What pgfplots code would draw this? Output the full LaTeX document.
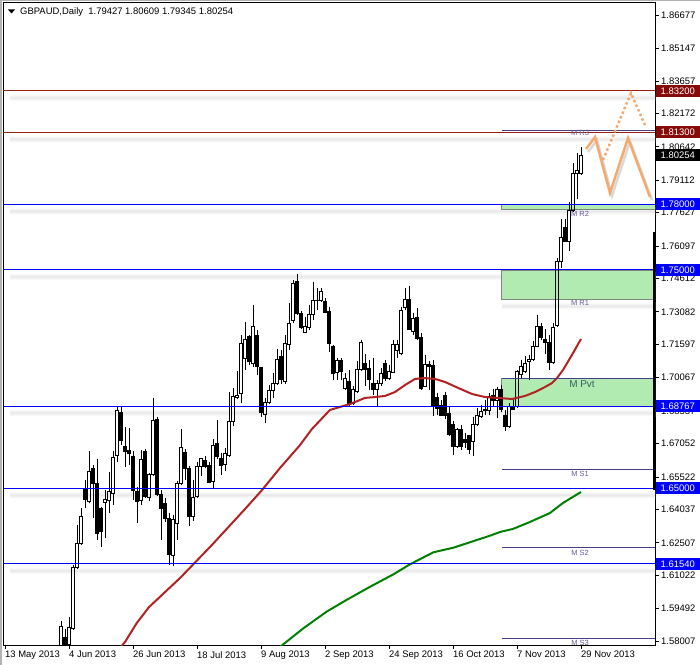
\documentclass[border=0pt]{standalone}
\usepackage{pgfplots}
\pgfplotsset{compat=1.18}
\usepackage{pgfplotstable}
\usepackage{fontspec}
\setmainfont{Liberation Sans}

\definecolor{mtblue}{RGB}{0,0,255}
\definecolor{mtmaroon}{RGB}{150,30,20}
\definecolor{boxred}{RGB}{135,10,10}
\definecolor{pivline}{RGB}{72,61,139}
\definecolor{pivtext}{RGB}{100,90,155}
\definecolor{pvttext}{RGB}{55,95,95}
\definecolor{zone}{RGB}{178,235,178}
\definecolor{zoneedge}{RGB}{125,135,125}
\definecolor{maslow}{RGB}{0,128,0}
\definecolor{mafast}{RGB}{178,34,34}
\definecolor{proj}{RGB}{244,170,110}

% daily candles: bar index, open, high, low, close
\pgfplotstableread{
i o h l c
15 1.5760 1.5891 1.5740 1.5868
16 1.5815 1.5856 1.5750 1.5770
17 1.5785 1.5909 1.5770 1.5865
18 1.5858 1.6150 1.5853 1.6139
19 1.6139 1.6332 1.6131 1.6246
20 1.6246 1.6408 1.6240 1.6373
21 1.6495 1.6538 1.6408 1.6449
22 1.6439 1.6670 1.6434 1.6579
23 1.6591 1.6606 1.6363 1.6522
24 1.6522 1.6636 1.6264 1.6294
25 1.6408 1.6416 1.6233 1.6302
26 1.6436 1.6492 1.6271 1.6451
27 1.6446 1.6575 1.6386 1.6487
28 1.6477 1.6670 1.6424 1.6641
29 1.6649 1.6877 1.6621 1.6857
30 1.6849 1.6877 1.6697 1.6717
31 1.6690 1.6781 1.6598 1.6671
32 1.6674 1.6776 1.6606 1.6659
33 1.6647 1.6670 1.6446 1.6492
34 1.6484 1.6507 1.6340 1.6442
35 1.6443 1.6674 1.6424 1.6632
36 1.6667 1.6680 1.6455 1.6462
37 1.6456 1.6570 1.6440 1.6563
38 1.6563 1.6915 1.6555 1.6811
39 1.6815 1.6828 1.6465 1.6471
40 1.6471 1.6490 1.6264 1.6410
41 1.6430 1.6456 1.6344 1.6361
42 1.6361 1.6387 1.6149 1.6195
43 1.6191 1.6380 1.6142 1.6356
44 1.6341 1.6532 1.6264 1.6522
45 1.6522 1.6770 1.6517 1.6685
46 1.6662 1.6678 1.6540 1.6589
47 1.6589 1.6601 1.6326 1.6371
48 1.6371 1.6540 1.6349 1.6460
49 1.6463 1.6619 1.6456 1.6598
50 1.6598 1.6640 1.6555 1.6635
51 1.6626 1.6650 1.6595 1.6601
52 1.6604 1.6620 1.6528 1.6528
53 1.6532 1.6724 1.6497 1.6698
54 1.6704 1.6815 1.6632 1.6644
55 1.6635 1.6662 1.6563 1.6606
56 1.6609 1.6686 1.6578 1.6658
57 1.6650 1.6943 1.6647 1.6805
58 1.6805 1.6958 1.6785 1.6920
59 1.6915 1.7038 1.6910 1.6925
60 1.6933 1.7201 1.6889 1.7163
61 1.7095 1.7263 1.7042 1.7184
62 1.7194 1.7202 1.7065 1.7080
63 1.7072 1.7340 1.7057 1.7240
64 1.7202 1.7225 1.7019 1.7057
65 1.7054 1.7057 1.6828 1.6846
66 1.6840 1.6912 1.6797 1.6893
67 1.6893 1.6973 1.6889 1.6950
68 1.6950 1.7026 1.6912 1.6980
69 1.6980 1.7138 1.6973 1.7090
70 1.7106 1.7133 1.6980 1.7000
71 1.6991 1.7202 1.6980 1.7164
72 1.7161 1.7347 1.7133 1.7255
73 1.7268 1.7454 1.7255 1.7439
74 1.7447 1.7482 1.7294 1.7301
75 1.7301 1.7310 1.7230 1.7237
76 1.7214 1.7286 1.7210 1.7240
77 1.7237 1.7340 1.7225 1.7294
78 1.7294 1.7447 1.7271 1.7362
79 1.7360 1.7416 1.7316 1.7362
80 1.7362 1.7416 1.7355 1.7401
81 1.7358 1.7370 1.7301 1.7306
82 1.7309 1.7332 1.7126 1.7164
83 1.7152 1.7156 1.6996 1.7026
84 1.7029 1.7095 1.6996 1.7084
85 1.7087 1.7095 1.6996 1.7034
86 1.6958 1.7030 1.6950 1.7003
87 1.6990 1.7040 1.6874 1.6885
88 1.6890 1.6967 1.6883 1.6952
89 1.6944 1.7081 1.6936 1.7046
90 1.7046 1.7181 1.7036 1.7168
91 1.7071 1.7116 1.6967 1.7046
92 1.7051 1.7089 1.6952 1.6997
93 1.6982 1.7097 1.6929 1.6952
94 1.6952 1.6997 1.6872 1.6979
95 1.6979 1.7051 1.6967 1.7028
96 1.7074 1.7086 1.6990 1.7005
97 1.7005 1.7066 1.6997 1.7036
98 1.7032 1.7181 1.7028 1.7161
99 1.7130 1.7181 1.7097 1.7158
100 1.7116 1.7329 1.7112 1.7313
101 1.7330 1.7417 1.7318 1.7364
102 1.7364 1.7425 1.7226 1.7229
103 1.7219 1.7303 1.7203 1.7280
104 1.7284 1.7326 1.7181 1.7188
105 1.7191 1.7211 1.6952 1.6959
106 1.6967 1.7112 1.6964 1.7066
107 1.7066 1.7081 1.6952 1.7058
108 1.7062 1.7086 1.6829 1.6873
109 1.6918 1.6935 1.6835 1.6865
110 1.6881 1.6903 1.6829 1.6835
111 1.6927 1.6942 1.6817 1.6835
112 1.6845 1.6877 1.6738 1.6745
113 1.6791 1.6806 1.6654 1.6692
114 1.6692 1.6776 1.6685 1.6768
115 1.6768 1.6790 1.6677 1.6692
116 1.6722 1.6753 1.6684 1.6708
117 1.6741 1.6745 1.6658 1.6677
118 1.6715 1.6826 1.6646 1.6791
119 1.6791 1.6868 1.6784 1.6832
120 1.6829 1.6883 1.6822 1.6852
121 1.6863 1.6906 1.6837 1.6857
122 1.6855 1.6936 1.6837 1.6921
123 1.6924 1.6955 1.6875 1.6903
124 1.6903 1.6964 1.6822 1.6952
125 1.6952 1.6974 1.6848 1.6860
126 1.6832 1.6860 1.6761 1.6784
127 1.6784 1.6890 1.6776 1.6875
128 1.6875 1.6913 1.6860 1.6863
129 1.6875 1.7043 1.6868 1.7035
130 1.7020 1.7089 1.7005 1.7058
131 1.7035 1.7104 1.7028 1.7074
132 1.7081 1.7112 1.6997 1.7092
133 1.7092 1.7173 1.7081 1.7150
134 1.7150 1.7295 1.7147 1.7242
135 1.7242 1.7257 1.7178 1.7193
136 1.7182 1.7230 1.7113 1.7167
137 1.7167 1.7201 1.7043 1.7078
138 1.7078 1.7255 1.7069 1.7237
139 1.7244 1.7554 1.7237 1.7539
140 1.7539 1.7733 1.7508 1.7647
141 1.7694 1.7733 1.7627 1.7632
142 1.7632 1.7810 1.7585 1.7771
143 1.7771 1.7988 1.7764 1.7942
144 1.7942 1.8035 1.7826 1.7954
145 1.79427 1.80609 1.79345 1.80254
}\candles
\pgfplotstablegetrowsof{\candles}
\pgfmathtruncatemacro\nrows{\pgfplotsretval-1}

\pgfplotsset{
  candle/.style={black, line width=0.9bp, forget plot, solid},
  level/.style={line width=1bp, forget plot},
  shadow/.style={draw=none, top color=white, bottom color=white, middle color=black!9, forget plot},
}

\begin{document}
\begin{tikzpicture}
\begin{axis}[
  at={(3bp,20bp)}, anchor=south west,
  width=652bp, height=642bp, scale only axis,
  xmin=0.5, xmax=163.5, ymin=1.57824, ymax=1.87227,
  clip mode=individual,
  axis line style={black, line width=1bp},
  tick align=outside, major tick length=4bp,
  tick style={black, line width=0.8bp},
  xtick pos=bottom, ytick pos=right, yticklabel pos=right,
  xtick={1,17,33,49,65,81,97,113,129,145},
  xticklabels={13 May 2013,4 Jun 2013,26 Jun 2013,18 Jul 2013,9 Aug 2013,2 Sep 2013,24 Sep 2013,16 Oct 2013,7 Nov 2013,29 Nov 2013},
  ytick={1.58007,1.59492,1.61022,1.62507,1.64037,1.65522,1.67052,1.68537,1.70067,1.71597,1.73082,1.74612,1.76097,1.77627,1.79112,1.80642,1.82172,1.83657,1.85147,1.86677},
  scaled y ticks=false,
  tick label style={font=\fontsize{9.5}{11}\selectfont},
  xticklabel style={anchor=north west, inner sep=0pt, yshift=-2bp},
  yticklabel style={anchor=west, inner sep=0pt, xshift=2bp,
    /pgf/number format/.cd, fixed, fixed zerofill, precision=5, assume math mode=true},
]
% soft shadows under the horizontal levels
\addplot[shadow] coordinates {(2.25,1.83063) (163.5,1.83063) (163.5,1.82742) (2.25,1.82742)} --cycle;
\addplot[shadow] coordinates {(2.25,1.81163) (163.5,1.81163) (163.5,1.80842) (2.25,1.80842)} --cycle;
\addplot[shadow] coordinates {(2.25,1.77863) (163.5,1.77863) (163.5,1.77542) (2.25,1.77542)} --cycle;
\addplot[shadow] coordinates {(2.25,1.74863) (163.5,1.74863) (163.5,1.74542) (2.25,1.74542)} --cycle;
\addplot[shadow] coordinates {(2.25,1.68630) (163.5,1.68630) (163.5,1.68309) (2.25,1.68309)} --cycle;
\addplot[shadow] coordinates {(2.25,1.64863) (163.5,1.64863) (163.5,1.64542) (2.25,1.64542)} --cycle;
\addplot[shadow] coordinates {(2.25,1.61403) (163.5,1.61403) (163.5,1.61082) (2.25,1.61082)} --cycle;
\addplot[shadow] coordinates {(125.2,1.73523) (163.5,1.73523) (163.5,1.73202) (125.2,1.73202)} --cycle;

% monthly pivot zones
\addplot[fill=zone, draw=zoneedge, line width=0.8bp, forget plot] coordinates {(125.2,1.7776) (163.5,1.7776) (163.5,1.7800) (125.2,1.7800)} --cycle;
\addplot[fill=zone, draw=zoneedge, line width=0.8bp, forget plot] coordinates {(125.2,1.7366) (163.5,1.7366) (163.5,1.7500) (125.2,1.7500)} --cycle;
\addplot[fill=zone, draw=zoneedge, line width=0.8bp, forget plot] coordinates {(125.2,1.68767) (163.5,1.68767) (163.5,1.7005) (125.2,1.7005)} --cycle;

% candles
\pgfplotsforeachungrouped \r in {0,...,\nrows}{%
  \pgfplotstablegetelem{\r}{i}\of\candles \let\ci\pgfplotsretval
  \pgfplotstablegetelem{\r}{o}\of\candles \let\co\pgfplotsretval
  \pgfplotstablegetelem{\r}{h}\of\candles \let\ch\pgfplotsretval
  \pgfplotstablegetelem{\r}{l}\of\candles \let\cl\pgfplotsretval
  \pgfplotstablegetelem{\r}{c}\of\candles \let\cc\pgfplotsretval
  \pgfmathsetmacro\xa{\ci-0.33}
  \pgfmathsetmacro\xb{\ci+0.33}
  \pgfmathsetmacro\ctop{max(\co,\cc)}
  \pgfmathsetmacro\cbot{min(\co,\cc)}
  \pgfmathtruncatemacro\bull{\cc<\co ? 0 : 1}
  \edef\cmd{\noexpand\addplot[candle] coordinates {(\ci,\ch) (\ci,\ctop)};
    \noexpand\addplot[candle] coordinates {(\ci,\cbot) (\ci,\cl)};}
  \cmd
  \ifnum\bull=1
    \edef\cmd{\noexpand\addplot[candle, fill=none] coordinates {(\xa,\co) (\xb,\co) (\xb,\cc) (\xa,\cc)} --cycle;}
  \else
    \edef\cmd{\noexpand\addplot[candle, fill=black] coordinates {(\xa,\co) (\xb,\co) (\xb,\cc) (\xa,\cc)} --cycle;}
  \fi
  \cmd
}

% moving averages
\addplot[mafast, line width=2bp] coordinates {
  (29.25,1.5759) (31,1.5796) (33.9,1.5882) (37,1.5956) (44.75,1.6089) (52.7,1.6240)
  (61,1.6405) (65.25,1.6492) (69.75,1.6593) (74.75,1.6698) (77.75,1.6772)
  (82.25,1.6859) (87.25,1.6886) (91,1.6914) (93.5,1.6918) (96,1.6923)
  (98.5,1.6941) (101,1.6973) (103.5,1.7001) (106,1.7005) (108.5,1.7001)
  (111,1.6987) (114.25,1.6960) (117.75,1.6932) (121,1.6918) (124.25,1.6914)
  (127.75,1.6909) (131,1.6923) (133.5,1.6941) (136,1.6964) (137.75,1.6982)
  (139,1.7005) (140.5,1.7042) (142.75,1.7111) (145,1.7184)};
\addplot[maslow, line width=2bp] coordinates {
  (69.5,1.5769) (70.6,1.5786) (75.6,1.5859) (81.4,1.5935) (86.4,1.5989)
  (92.25,1.6049) (98.1,1.6106) (102.25,1.6152) (108.1,1.6207) (113.1,1.6228)
  (118.9,1.6263) (122.25,1.6283) (124.75,1.6300) (128,1.6314) (132.25,1.6346)
  (137.25,1.6387) (140.5,1.6433) (145,1.6483)};

% horizontal levels
\addplot[level, mtmaroon] coordinates {(0.5,1.832) (163.5,1.832)};
\addplot[level, mtmaroon] coordinates {(0.5,1.813) (163.5,1.813)};
\addplot[level, mtblue] coordinates {(0.5,1.78) (163.5,1.78)};
\addplot[level, mtblue] coordinates {(0.5,1.75) (163.5,1.75)};
\addplot[level, mtblue] coordinates {(0.5,1.68767) (163.5,1.68767)};
\addplot[level, mtblue] coordinates {(0.5,1.65) (163.5,1.65)};
\addplot[level, mtblue] coordinates {(0.5,1.6154) (163.5,1.6154)};
% monthly pivot lines
\addplot[level, pivline] coordinates {(125.2,1.8140) (163.5,1.8140)};
\addplot[level, pivline] coordinates {(125.2,1.7005) (163.5,1.7005)};
\addplot[level, pivline] coordinates {(125.2,1.6587) (163.5,1.6587)};
\addplot[level, pivline] coordinates {(125.2,1.6227) (163.5,1.6227)};
\addplot[level, pivline] coordinates {(125.2,1.5813) (163.5,1.5813)};

% price range marker on the right edge
\addplot[black, line width=2.5bp, forget plot] coordinates {(163.2,1.7674) (163.2,1.6490)};

% projected path
\addplot[gray!30, line width=2.5bp, transform canvas={xshift=2bp, yshift=-3bp}] coordinates {(146.25,1.8054) (148.5,1.8109) (152.25,1.7853) (156.75,1.8104) (162.25,1.7834)};
\addplot[proj, line width=2.5bp] coordinates {(146.25,1.8054) (148.5,1.8109) (152.25,1.7853) (156.75,1.8104) (162.25,1.7834)};
\addplot[proj, line width=2.5bp, dash pattern=on 2.5bp off 2.5bp] coordinates {(150.5,1.8004) (157.5,1.8310) (161,1.8164)};

\node[pivtext, font=\fontsize{7.5}{8}\selectfont, inner sep=0pt] at (axis cs:144.75,1.8128) {M R3};
\node[pivtext, font=\fontsize{7.5}{8}\selectfont, inner sep=0pt] at (axis cs:144.75,1.7758) {M R2};
\node[pivtext, font=\fontsize{7.5}{8}\selectfont, inner sep=0pt] at (axis cs:144.75,1.7347) {M R1};
\node[pivtext, font=\fontsize{7.5}{8}\selectfont, inner sep=0pt] at (axis cs:144.75,1.6564) {M S1};
\node[pivtext, font=\fontsize{7.5}{8}\selectfont, inner sep=0pt] at (axis cs:144.75,1.6204) {M S2};
\node[pivtext, font=\fontsize{7.5}{8}\selectfont, inner sep=0pt] at (axis cs:144.75,1.5790) {M S3};
\node[pvttext, font=\fontsize{10}{12}\selectfont, inner sep=0pt] at (axis cs:145.25,1.6978) {M Pvt};

\coordinate (b1) at (axis cs:163.5,1.832);
\coordinate (b2) at (axis cs:163.5,1.813);
\coordinate (b3) at (axis cs:163.5,1.80254);
\coordinate (b4) at (axis cs:163.5,1.78);
\coordinate (b5) at (axis cs:163.5,1.75);
\coordinate (b6) at (axis cs:163.5,1.68767);
\coordinate (b7) at (axis cs:163.5,1.65);
\coordinate (b8) at (axis cs:163.5,1.6154);
\end{axis}

\tikzset{pricebox/.style={anchor=west, text=white, inner xsep=5bp, inner ysep=0pt,
  minimum height=12bp, xshift=0.5bp, font=\fontsize{9.5}{11}\selectfont}}
\node[pricebox, fill=boxred] at (b1) {1.83200};
\node[pricebox, fill=boxred] at (b2) {1.81300};
\node[pricebox, fill=black] at (b3) {1.80254};
\node[pricebox, fill=mtblue] at (b4) {1.78000};
\node[pricebox, fill=mtblue] at (b5) {1.75000};
\node[pricebox, fill=mtblue] at (b6) {1.68767};
\node[pricebox, fill=mtblue] at (b7) {1.65000};
\node[pricebox, fill=mtblue] at (b8) {1.61540};

% chart header
\fill (8bp,655.5bp) -- (15bp,655.5bp) -- (11.5bp,651.5bp) -- cycle;
\node[anchor=west, inner sep=0pt, font=\fontsize{9.5}{11}\selectfont] at (20bp,653bp)
  {GBPAUD,Daily\ \ 1.79427 1.80609 1.79345 1.80254};

% window frame
\draw[gray!60, line width=2bp] (1bp,0) -- (1bp,665bp);
\draw[gray!60, line width=1bp] (0,664.5bp) -- (700bp,664.5bp);

\pgfresetboundingbox
\path[use as bounding box] (0,0) rectangle (700bp,665bp);
\end{tikzpicture}
\end{document}
